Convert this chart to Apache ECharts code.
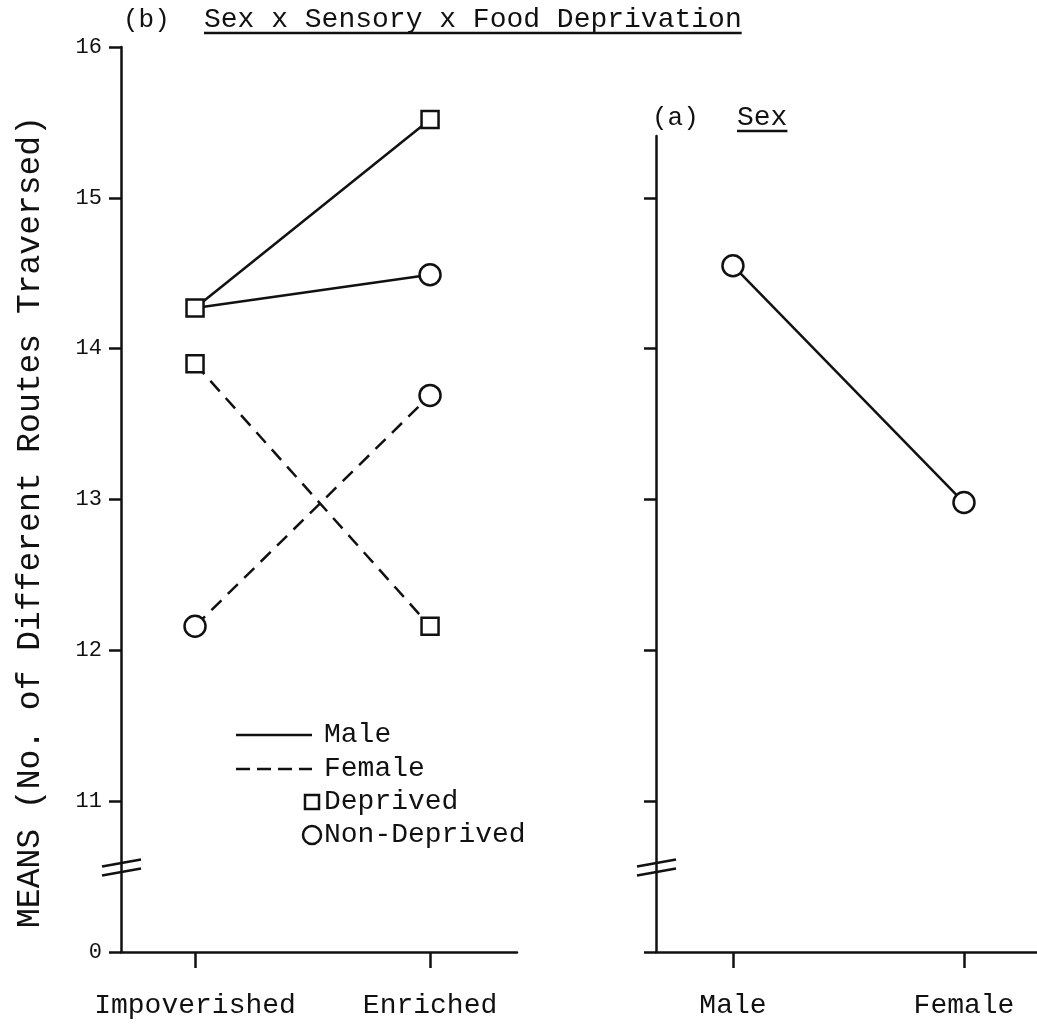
<!DOCTYPE html>
<html>
<head>
<meta charset="utf-8">
<script src="https://cdn.jsdelivr.net/npm/echarts@6/dist/echarts.min.js"></script>
<style>
  html, body { margin: 0; padding: 0; background: #fff; }
  #chart { width: 1037px; height: 1032px; }
</style>
</head>
<body>
<div id="chart"></div>
<script>
// Panel (b): Sex x Sensory x Food Deprivation
const sensoryCategories = ['Impoverished', 'Enriched'];
const maleDeprived = [14.27, 15.52];
const maleNonDeprived = [14.27, 14.49];
const femaleDeprived = [13.90, 12.16];
const femaleNonDeprived = [12.16, 13.69];

// Panel (a): Sex
const sexCategories = ['Male', 'Female'];
const sexMeans = [14.55, 12.98];

// Broken value axis: bottom tick stands for 0, the rest run 11..16
const yTickValues = [10, 11, 12, 13, 14, 15, 16];
const yTickLabels = ['0', '11', '12', '13', '14', '15', '16'];

const INK = '#111';
const FONT = '"Liberation Mono", "DejaVu Sans Mono", monospace';

const chart = echarts.init(document.getElementById('chart'), null, { renderer: 'canvas' });

function pts(values, hideIdx) {
  return values.map((v, i) => {
    const item = { value: [i, v] };
    if (hideIdx === i) item.symbol = 'none';
    return item;
  });
}

function lineSeries(name, values, dashed, symbol, axisIdx, hideIdx) {
  return {
    name: name,
    type: 'line',
    xAxisIndex: axisIdx,
    yAxisIndex: axisIdx,
    data: pts(values, hideIdx),
    symbol: symbol,
    symbolSize: symbol === 'rect' ? 17 : 21,
    showSymbol: true,
    lineStyle: { color: INK, width: 2.5, type: dashed ? [14, 9] : 'solid' },
    itemStyle: { color: '#fff', borderColor: INK, borderWidth: 2.5 },
    z: symbol === 'rect' ? 4 : 3,
    animation: false
  };
}

// The male non-deprived start coincides with the male deprived start
const hideShared = maleNonDeprived[0] === maleDeprived[0] ? 0 : -1;

function axisLine() {
  return { show: true, onZero: false, lineStyle: { color: INK, width: 2.5 } };
}

function yAxisCfg(gridIndex, max, showLabels, tickValues) {
  return {
    type: 'value',
    gridIndex: gridIndex,
    min: 10,
    max: max,
    interval: 1,
    axisLine: axisLine(),
    splitLine: { show: false },
    axisTick: { show: true, length: 12, lineStyle: { color: INK, width: 2.5 }, customValues: tickValues },
    axisLabel: {
      show: showLabels,
      margin: 19,
      color: INK,
      fontFamily: FONT,
      fontSize: 22,
      customValues: tickValues,
      formatter: v => yTickLabels[yTickValues.indexOf(Math.round(v))] || ''
    }
  };
}

function xAxisCfg(gridIndex, min, max, cats) {
  return {
    type: 'value',
    gridIndex: gridIndex,
    min: min,
    max: max,
    axisLine: axisLine(),
    splitLine: { show: false },
    axisTick: { show: true, length: 16, lineStyle: { color: INK, width: 2.5 }, customValues: [0, 1] },
    axisLabel: {
      show: true,
      margin: 40,
      color: INK,
      fontFamily: FONT,
      fontSize: 28,
      customValues: [0, 1],
      formatter: v => cats[Math.round(v)] || ''
    }
  };
}

chart.setOption({
  backgroundColor: '#fff',
  animation: false,
  grid: [
    { left: 121, top: 47, width: 396, bottom: 80 },
    { left: 656, top: 136, right: 0, bottom: 80 }
  ],
  xAxis: [
    xAxisCfg(0, -0.315, 1.37, sensoryCategories),
    xAxisCfg(1, -0.333, 1.316, sexCategories)
  ],
  yAxis: [
    yAxisCfg(0, 16, true, [10, 11, 12, 13, 14, 15, 16]),
    yAxisCfg(1, 15.41, false, [10, 11, 12, 13, 14, 15])
  ],
  series: [
    lineSeries('Male Non-Deprived', maleNonDeprived, false, 'circle', 0, hideShared),
    lineSeries('Male Deprived', maleDeprived, false, 'rect', 0, -1),
    lineSeries('Female Deprived', femaleDeprived, true, 'rect', 0, -1),
    lineSeries('Female Non-Deprived', femaleNonDeprived, true, 'circle', 0, -1),
    lineSeries('Sex', sexMeans, false, 'circle', 1, -1)
  ]
});

// Text measuring for the underlined headings
const ctx = document.createElement('canvas').getContext('2d');
function textWidth(str, size) {
  ctx.font = size + 'px ' + FONT;
  return ctx.measureText(str).width;
}

function underlined(x, y, str, size) {
  const w = textWidth(str, size);
  return [
    { type: 'text', x: x, y: y, style: { text: str, fill: INK, font: size + 'px ' + FONT, verticalAlign: 'middle' } },
    { type: 'line', shape: { x1: x, y1: y + 13, x2: x + w, y2: y + 13 }, style: { stroke: INK, lineWidth: 2.5 } }
  ];
}

// Double-slash break marks on both value axes
function breakMarks(gridIdx) {
  const p = chart.convertToPixel({ xAxisIndex: gridIdx, yAxisIndex: gridIdx }, [gridIdx === 0 ? -0.315 : -0.333, 10.56]);
  const x = p[0], y = p[1];
  return [
    { type: 'line', shape: { x1: x - 19, y1: y - 1, x2: x + 20, y2: y - 8 }, style: { stroke: INK, lineWidth: 2.5 } },
    { type: 'line', shape: { x1: x - 19, y1: y + 8, x2: x + 20, y2: y + 1 }, style: { stroke: INK, lineWidth: 2.5 } }
  ];
}

const legendX = 236, legendTextX = 324;
const legendRows = [735, 769, 802, 835];
const legendFont = '28px ' + FONT;

const graphics = [].concat(
  [{ type: 'text', x: 123, y: 20, style: { text: '(b)', fill: INK, font: '26px ' + FONT, verticalAlign: 'middle' } }],
  underlined(204, 20, 'Sex x Sensory x Food Deprivation', 28),
  [{ type: 'text', x: 652, y: 118, style: { text: '(a)', fill: INK, font: '26px ' + FONT, verticalAlign: 'middle' } }],
  underlined(737, 118, 'Sex', 28),
  [{
    type: 'text', x: 30, y: 522, rotation: Math.PI / 2,
    style: { text: 'MEANS (No. of Different Routes Traversed)', fill: INK, font: '33px ' + FONT, align: 'center', verticalAlign: 'middle' }
  }],
  breakMarks(0),
  breakMarks(1),
  // Key
  [
    { type: 'line', shape: { x1: legendX, y1: legendRows[0], x2: legendX + 76, y2: legendRows[0] }, style: { stroke: INK, lineWidth: 2.5 } },
    { type: 'text', x: legendTextX, y: legendRows[0], style: { text: 'Male', fill: INK, font: legendFont, verticalAlign: 'middle' } },
    { type: 'line', shape: { x1: legendX, y1: legendRows[1], x2: legendX + 76, y2: legendRows[1] }, style: { stroke: INK, lineWidth: 2.5, lineDash: [14, 7] } },
    { type: 'text', x: legendTextX, y: legendRows[1], style: { text: 'Female', fill: INK, font: legendFont, verticalAlign: 'middle' } },
    { type: 'rect', shape: { x: 305, y: legendRows[2] - 7, width: 14, height: 14 }, style: { fill: '#fff', stroke: INK, lineWidth: 2.5 } },
    { type: 'text', x: legendTextX, y: legendRows[2], style: { text: 'Deprived', fill: INK, font: legendFont, verticalAlign: 'middle' } },
    { type: 'circle', shape: { cx: 312, cy: legendRows[3], r: 9 }, style: { fill: '#fff', stroke: INK, lineWidth: 2.5 } },
    { type: 'text', x: legendTextX, y: legendRows[3], style: { text: 'Non-Deprived', fill: INK, font: legendFont, verticalAlign: 'middle' } }
  ]
);

chart.setOption({ graphic: graphics });
</script>
</body>
</html>
